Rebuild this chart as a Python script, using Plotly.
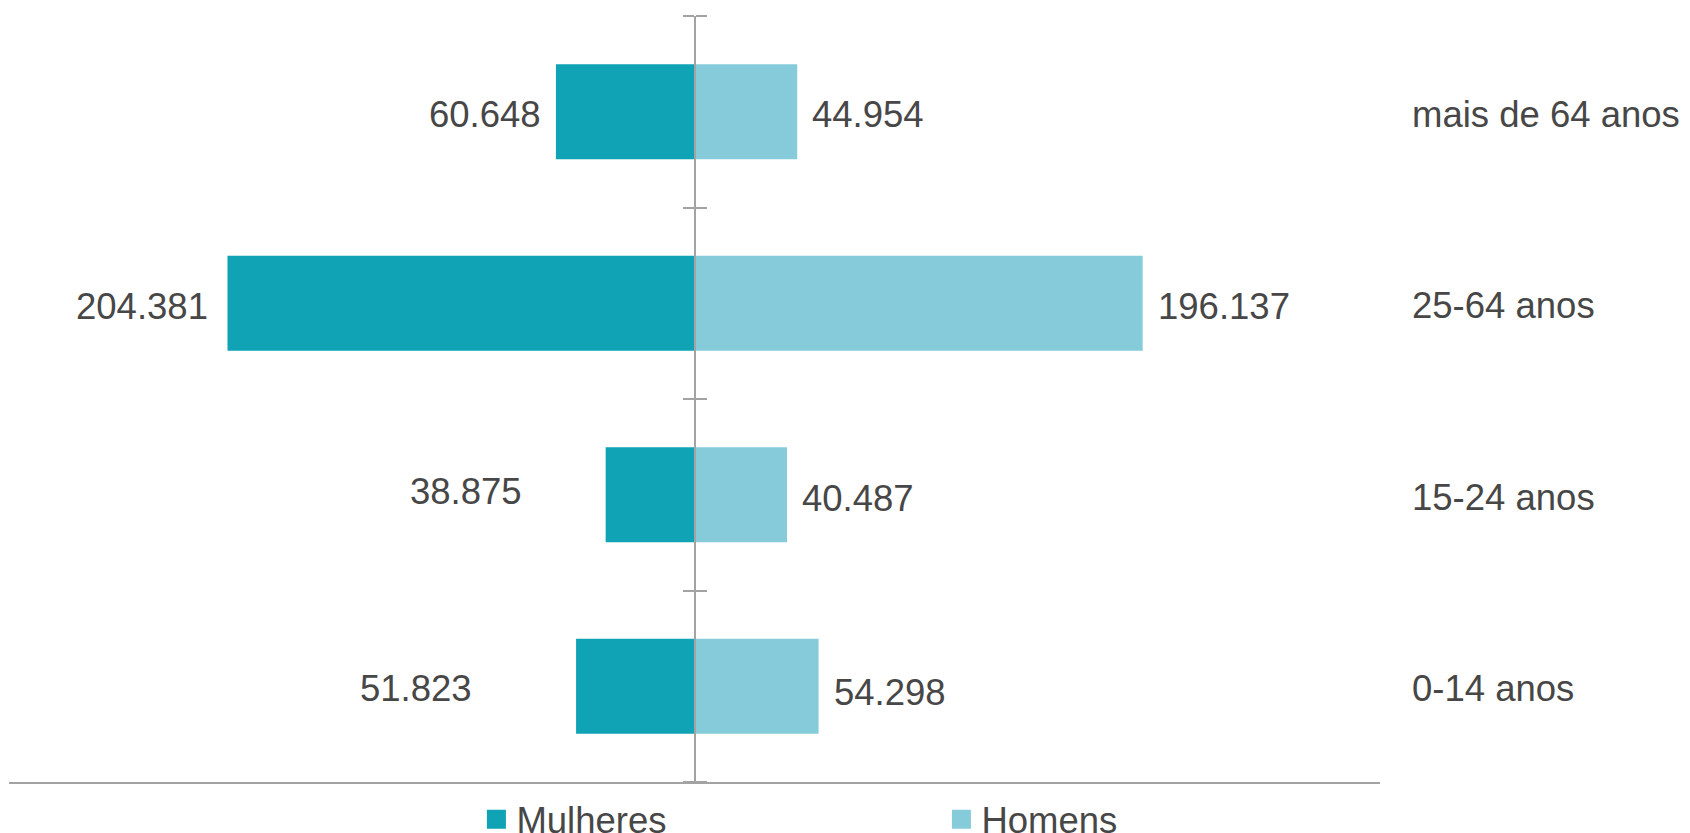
import plotly.graph_objects as go

# ---- data ----
categories = ["0-14 anos", "15-24 anos", "25-64 anos", "mais de 64 anos"]
mulheres = [51823, 38875, 204381, 60648]
homens = [54298, 40487, 196137, 44954]
series_names = ["Mulheres", "Homens"]

# ---- style ----
C_MUL = "#0FA3B5"
C_HOM = "#86CBD9"
C_TXT = "#474747"
C_AX = "#A3A3A3"
FONT = "Liberation Sans, Arial, sans-serif"
FS = 36.5
mul_label_gap = [102, 82, 17, 13]
mul_label_yshift = [-2, 3.5, -3, -3]
hom_label_gap = [13, 13, 13, 13]
hom_label_yshift = [-6, -3.5, -3.5, -3]


def fmt(v):
    return f"{v:,}".replace(",", ".")


fig = go.Figure()
fig.add_trace(go.Bar(y=categories, x=[-v for v in mulheres], orientation="h",
                     marker=dict(color=C_MUL, line=dict(width=0)),
                     showlegend=False, hoverinfo="skip"))
fig.add_trace(go.Bar(y=categories, x=homens, orientation="h",
                     marker=dict(color=C_HOM, line=dict(width=0)),
                     showlegend=False, hoverinfo="skip"))
# legend entries
for name, col in zip(series_names, [C_MUL, C_HOM]):
    fig.add_trace(go.Scatter(x=[None], y=[None], mode="markers", name=name,
                             marker=dict(symbol="square", size=16, color=col,
                                         line=dict(color=col, width=3))))

annotations = []
for i, cat in enumerate(categories):
    annotations.append(dict(x=-mulheres[i], y=cat, xref="x", yref="y", text=fmt(mulheres[i]),
                            showarrow=False, xanchor="right", yanchor="middle",
                            xshift=-mul_label_gap[i], yshift=mul_label_yshift[i],
                            font=dict(family=FONT, size=FS, color=C_TXT)))
    annotations.append(dict(x=homens[i], y=cat, xref="x", yref="y", text=fmt(homens[i]),
                            showarrow=False, xanchor="left", yanchor="middle",
                            xshift=hom_label_gap[i], yshift=hom_label_yshift[i],
                            font=dict(family=FONT, size=FS, color=C_TXT)))

tickpos = [-0.5, 0.5, 1.5, 2.5, 3.5]

fig.update_layout(
    width=1690, height=833,
    margin=dict(l=9, r=310, t=16, b=51, pad=0, autoexpand=False),
    paper_bgcolor="white", plot_bgcolor="white",
    barmode="relative", bargap=0.504,
    font=dict(family=FONT, size=FS, color=C_TXT),
    xaxis=dict(range=[-300000, 300000], showgrid=False, zeroline=False,
               showticklabels=False, ticks="", showline=True,
               linecolor=C_AX, linewidth=2, fixedrange=True),
    yaxis=dict(type="category", categoryorder="array", categoryarray=categories,
               range=[-0.5, 3.5], side="right", showline=False, ticks="",
               showgrid=False, zeroline=False, ticklabelstandoff=31,
               ticklabelshift=2, automargin=False,
               tickfont=dict(family=FONT, size=FS, color=C_TXT)),
    yaxis2=dict(overlaying="y", anchor="free", position=0.5, side="left",
                range=[-0.5, 3.5], tickvals=tickpos, ticks="outside", ticklen=11,
                tickwidth=2, tickcolor=C_AX, showline=True, linecolor=C_AX,
                linewidth=2, showticklabels=False, showgrid=False, zeroline=False),
    yaxis3=dict(overlaying="y", anchor="free", position=0.5, side="right",
                range=[-0.5, 3.5], tickvals=tickpos, ticks="outside", ticklen=11,
                tickwidth=2, tickcolor=C_AX, showline=False,
                showticklabels=False, showgrid=False, zeroline=False),
    legend=dict(orientation="h", xref="container", yref="container",
                x=0.2819, xanchor="left", y=0.0162, yanchor="middle",
                entrywidth=420, entrywidthmode="pixels",
                font=dict(family=FONT, size=FS, color=C_TXT),
                bgcolor="rgba(0,0,0,0)", borderwidth=0),
    annotations=annotations,
    showlegend=True,
)

# dummy traces to activate overlay axes
fig.add_trace(go.Scatter(x=[None], y=[None], yaxis="y2", showlegend=False, hoverinfo="skip"))
fig.add_trace(go.Scatter(x=[None], y=[None], yaxis="y3", showlegend=False, hoverinfo="skip"))

fig.write_html("out.html", config={"displayModeBar": False},
               post_script="document.body.style.margin='0';document.body.style.overflow='hidden';")
